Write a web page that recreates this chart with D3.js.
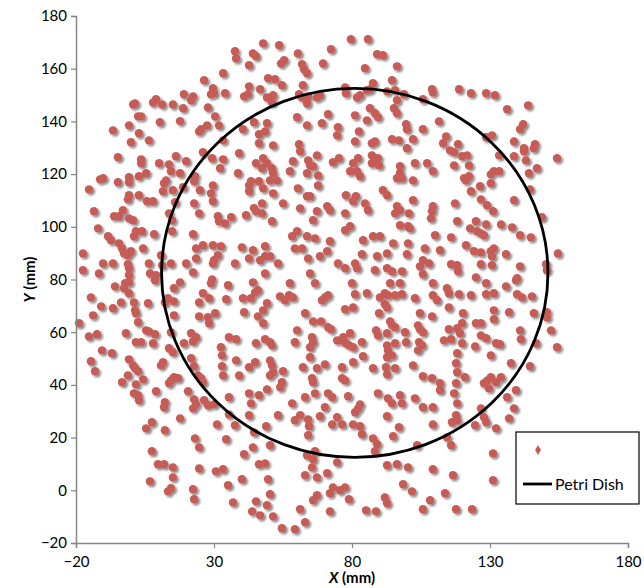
<!DOCTYPE html>
<html><head><meta charset="utf-8">
<script src="https://cdn.jsdelivr.net/npm/d3@7"></script>
<style>body{margin:0;background:#fff}svg{display:block}text{font-family:Lato,"Open Sans",sans-serif}</style>
</head><body>
<svg id="chart" width="644" height="588"></svg>
<script>
const xTicks = [-20, 30, 80, 130, 180];
const yTicks = [-20, 0, 20, 40, 60, 80, 100, 120, 140, 160, 180];
const seriesNames = ["", "Petri Dish"];
const dishCenter = [81, 82.5];
const dishRadius = 70;
const colonies = [
[37.6,166.6],[38,163.9],[44.1,165.8],[45.2,164.7],[42.7,161.3],[33.3,158.3],[26.4,155.6],[42.7,153.3],[29.6,152.6],[30,150.7],[28.9,150.3],[34,150.7],[19.1,150.3],[22.4,149.5],[21.7,148],[40.9,149.5],[42.3,150.3],[9,148.4],[7.9,147.2],[11.2,146.4],[15.1,146.4],[0.7,146.4],[1.4,146.8],[18.8,145],[27.8,145.3],[2.5,141.9],[3.6,141.9],[10.4,139.7],[17.7,140.1],[30.4,141.9],[-0.8,138.5],[27.5,138.5],[25.3,137],[24.6,136.2],[31.8,138.5],[44.5,139.7],[-6.6,136.6],[2.8,135.5],[40.5,137],[-0.1,132.1],[6.4,132.8],[33.3,132.8],[46.3,135.1],[46.3,131.7],
[79.6,171.2],[85.8,171.2],[47.8,169.6],[53.6,168.9],[72.4,167.4],[60.4,165.8],[89.1,165.5],[91.2,165.1],[55.4,163.2],[54.3,162],[61.9,161.7],[62.6,159.8],[63.7,158.3],[69.5,162],[84.7,160.2],[96.3,160.9],[49.6,156.4],[52.1,156],[54.6,153.7],[94.5,155.6],[87.6,154.5],[62.2,153.7],[109,152.2],[109.3,151],[46.7,152.2],[77.5,152.9],[77.8,150.7],[85.4,151.8],[86.5,152.2],[92.7,151.4],[95.6,151.8],[60.8,150.3],[64.1,149.5],[61.9,149.1],[68.4,149.9],[67.3,149.1],[49.2,149.1],[51.4,149.9],[51,147.2],[81.8,149.1],[82.9,149.9],[98.8,150.3],[105.7,148.4],[96.3,148],[63.7,146.8],[86.5,145],[88.3,143.1],[89.4,141.6],[95.2,145],[96.3,143.1],[71.3,142.7],[81.1,142.3],[60.1,141.6],[85.4,140.4],[111.5,140],[69.1,139.3],[49.2,139.3],[48.5,136.2],[63.7,138.5],[74.9,137.8],[74.6,134.7],[99.6,138.9],[99.9,137],[82.5,136.2],[105.7,137],[102.1,133.2],[94.5,133.2],[97,132.8],[88.3,132.4],[87.2,131.7],[81.1,132.4],[60.8,131.3],[51.4,130.9],[113,131.7],
[118.8,152.2],[123.1,150.7],[128.6,150.7],[131.8,149.9],[136.2,144.6],[143.8,146.1],[142,138.9],[140.9,137],[128.6,134],[130.7,134.7],[138.7,132.4],[146.3,131.3],[142.3,129.8],[118.4,131.3],[114.1,134.3],
[-4.8,126.4],[3.6,125.6],[3.6,124.1],[10.1,124.1],[13.7,123.7],[14.4,121.1],[16.2,126.8],[19.9,124.9],[26,128.3],[29.3,126],[33.3,125.6],[32.2,122.2],[39.1,127.9],[38.7,120.3],[45.2,124.1],[43.4,117.3],[42.7,115.7],[42.7,113.5],[46.3,117.3],[-11.3,118],[-10.2,118.4],[-15.3,114.2],[-4.8,116.9],[-0.8,118.8],[-0.8,116.9],[2.8,119.2],[5.4,120.3],[12.6,117.6],[11.9,116.5],[17.7,120.3],[23.1,119.2],[22.8,117.3],[29.6,115.7],[11.5,113.5],[15.1,113.9],[18.8,115],[24.9,113.9],[28.9,112.7],[-0.8,112],[-1.2,110.4],[2.8,112],[7.9,109.7],[5.7,109.7],[15.9,109.3],[22.8,108.9],[29.6,109.7],[-13.5,105.9],[-3,106.3],[-6.2,104],[-4.4,104],[-0.8,103.2],[0.7,102.5],[13.7,105.1],[14.8,102.5],[24.6,105.1],[31.4,104],[31.8,102.1],[36.2,103.6],[34,101.3],[41.6,104.4],[44.5,107.1],[45.2,105.9],[-12,99.4],[1.7,98.3],[1,96.4],[3.9,98.3],[8.3,97.2],[14.8,98.3],[22.4,97.2],[-8.4,96.4],[-7.3,94.9],[-4.4,93.7],[-3.3,91.8],[-2.6,89.9],[-1.2,89.2],[-0.1,90.7],[4.3,91.8],[-17.5,89.9],[10.8,89.2],[23.5,91.8],[26,93],[29.6,93],[32.5,92.6],[31.4,89.2],[30,87.3],[29.6,86.1],[23.5,88],[40.1,92.2],[44.1,91.1],[42.7,88],[-10.2,86.1],[-6.6,86.1],[-1.2,85.8],[-0.8,84.3],[-0.8,81.6],[6.4,86.1],[11.2,85.4],[14.4,86.1],[19.9,86.1],[37.6,86.1],[-17.5,83.5],[-11.7,82.3],[6.8,82.3],[9,81.6],[22.4,82.7],[29.3,80],
[61.2,128.7],[67.3,127.1],[47.8,126],[49.2,124.1],[51,122.2],[51.4,120.3],[50.3,117.6],[52.8,117.6],[47.4,122.2],[58.6,124.9],[57.5,121.1],[64.1,125.2],[64.8,123.3],[65.9,123],[63.7,120.3],[67.7,119.5],[67.7,115.7],[73.1,124.5],[75.3,126],[80.4,124.1],[82.2,126],[79.3,121.1],[81.8,121.1],[82.9,119.2],[87.2,127.1],[89.4,126],[87.2,124.1],[89.8,123.3],[97.4,123],[96.3,118.4],[98.1,118.4],[97.4,120.3],[102.1,117.6],[102.8,124.1],[107.2,124.1],[109.3,121.1],[99.9,129.8],[60.4,114.6],[47.8,114.6],[51.4,112.7],[63.7,111.6],[64.8,111.6],[77.8,112],[81.4,111.6],[80.4,109.7],[91.2,113.9],[92.7,112],[84.7,108.9],[85.8,106.3],[102.1,110.1],[55,108.9],[47.4,108.9],[47.4,105.1],[61.2,107],[71,107.8],[72,106.3],[67.3,105.9],[77.5,105.1],[96.3,107.8],[97.4,106.3],[95.6,105.1],[100.6,105.1],[109.3,107.8],[109,105.9],[108.6,103.2],[65.9,102.5],[51,102.1],[97.4,100.6],[100.3,100.2],[101,99.4],[77.5,98.7],[79.3,100.2],[60.1,98.3],[58.3,96.4],[63.7,96.4],[66.6,95.6],[72,94.5],[84,94.9],[87.6,96.4],[90.1,96.4],[94.9,93.7],[100.3,93.7],[110.1,96.8],[48.5,92.6],[59.3,91.8],[61.9,91.8],[64.1,88],[68.4,88.8],[71,90.7],[83.6,89.6],[89.1,88.8],[92.7,89.9],[99.9,89.6],[106.4,91.8],[111.9,91.1],[48.5,88.8],[50.3,88.8],[46.7,87.3],[53.2,86.1],[74.9,86.1],[77.5,84.3],[81.1,86.1],[81.8,84.3],[88.3,83.5],[92.7,84.3],[94.5,83.1],[98.1,83.1],[105.7,87.3],[104.6,85],[107.9,86.1],[64.8,82.3],[48.5,82.3],[105.7,82],
[115.5,129],[117,128.3],[119.9,126.8],[121.7,127.1],[133.3,127.1],[138.7,126.8],[142.3,128.7],[143,125.2],[145.9,129.8],[154.3,126],[117,123.3],[122.4,123.3],[131.4,121.1],[133.3,121.1],[130.3,119.9],[144.1,120.3],[147,122.2],[120.6,118.4],[122.4,119.2],[121.3,117.6],[130.3,116.5],[126.4,115.4],[123.1,113.5],[144.5,114.2],[126.7,110.4],[128.9,108.2],[131.1,105.9],[138.7,110.1],[117.3,108.9],[118.1,102.1],[124.9,102.1],[122.8,99.4],[125.3,98.3],[126.7,97.5],[127.8,96.8],[128.6,100.9],[134,100.9],[138,99.8],[140.9,96.8],[144.8,96],[148.8,103.6],[115.9,96],[121.3,93],[124.2,90.7],[126.7,90.3],[130.3,90.7],[131.4,91.8],[130.7,88.8],[135.8,89.6],[130.7,85.4],[126.7,85.8],[115.9,85.8],[118.1,85.4],[118.4,83.1],[140.9,85],[150.3,85.8],[150.6,83.5],[154.6,89.9],[124.9,80.8],[139.8,80.5],
[-2.2,78.6],[-0.8,78.9],[-2.6,76.7],[-0.8,74.8],[-5.9,77.4],[8.6,79.7],[15.5,76.7],[17.7,78.9],[28.9,78.6],[35.1,77.8],[44.1,78.9],[45.9,75.9],[-14.6,73.2],[-3.7,71.3],[1,71.3],[1.4,68.3],[1.7,67.2],[6.1,71],[12.2,71.3],[13.3,72.9],[15.5,71.7],[26,74.8],[28.2,72.9],[24.6,71.3],[34.4,72.5],[40.5,72.9],[43.4,72.9],[44.9,75.1],[-10.9,69.8],[-6.6,69.1],[40.9,67.6],[-13.8,66.4],[15.5,66.4],[24.6,66],[27.8,65.7],[28.2,63.4],[30.4,67.2],[45.9,66],[-18.9,63.4],[2.5,63.8],[5.4,60.7],[6.4,60.3],[8.6,59.2],[-1.9,59.6],[14.4,60],[21.7,59.6],[23.5,58.1],[22.4,56.5],[-15.3,58.4],[-12.4,59.2],[1.7,56.2],[3.6,56.2],[7.9,55.8],[19.1,55.8],[35.4,58.1],[38,57.3],[32.5,54.3],[45.2,55.8],[-10.6,53.1],[-7,52],[13.7,53.9],[15.1,52.4],[-0.8,49.7],[0.7,47.4],[1.4,46.3],[2.5,45.2],[11.5,48.6],[10.8,47.4],[21.7,50.1],[22.8,47.1],[32.9,51.2],[32.9,47.1],[38,49.3],[42.7,46.7],[44.9,48.6],[-14.6,49],[-13.1,45.2],[-1.2,43.6],[4.3,42.1],[-3.3,41],[1.7,40.2],[14.4,41.7],[15.5,42.9],[17,42.5],[13.7,40.6],[24.2,43.6],[25.3,42.5],[26,41],[33.3,43.6],[39.1,43.6],[9,37.6],[1,36.8],[2.5,36.1],[2.8,34.2],[20.6,37.6],[35.4,35.3],[42.7,36.8],[43.4,33],[12.2,33.4],[11.9,31.5],[22.8,34.5],[23.5,32.6],[22.4,31.1],[26.4,34.2],[27.8,32.3],[30,32.6],[46.3,36.1],
[57.5,78.6],[66.6,78.6],[80,78.6],[93.8,78.6],[97.4,78.6],[109.3,78.6],[53.9,73.6],[55.7,72.1],[57.2,74],[58.6,73.2],[69.1,72.1],[70.2,73.2],[71.3,74],[81.1,74.4],[85.4,74.8],[90.1,73.2],[91.9,74.8],[93,74],[91.9,70.6],[92.7,69.4],[95.6,74],[98.1,74.4],[102.8,72.9],[109.3,74],[110.8,72.1],[49.2,71],[77.5,68.7],[80.4,69.4],[89.8,67.2],[47.8,68.3],[63,67.2],[104.6,67.2],[109,66],[65.9,64.1],[68.8,64.1],[71.3,61.9],[72.4,61.1],[93.8,64.1],[94.5,62.6],[95.6,61.9],[47.8,63.4],[103.9,62.6],[104.6,61.1],[105.7,60],[60.1,60.7],[88.7,60.7],[89.4,58.8],[92.7,59.6],[99.2,60],[79.3,59.6],[65.5,58.1],[65.9,56.2],[64.8,54.3],[74.6,56.9],[76.1,56.9],[77.8,55.8],[79,55],[80.4,54.3],[76.8,58.1],[83.6,56.2],[48.5,57.3],[50.3,56.2],[51,55],[59.3,56.2],[92.7,55],[93,53.1],[94.5,51.2],[92.7,50.5],[95.6,55.8],[99.6,56.2],[104.3,56.2],[105.4,55],[103.9,53.1],[84,50.9],[64.8,50.5],[50.3,49.3],[51,47.4],[80.4,48.6],[76.4,46.7],[70.2,47.8],[67.3,46.3],[62.2,46.7],[87.6,46.3],[92.3,46.7],[92.7,44],[95.6,46.3],[102.1,47.4],[51.4,44.8],[55,45.2],[50.3,43.6],[65.5,42.5],[65.9,41],[76.4,42.5],[77.5,41.7],[105.7,43.3],[109,42.5],[111.9,40.6],[54.6,41],[54,39.1],[49.2,38.3],[63,35.3],[66.6,36.8],[71.3,36.8],[72.8,35.3],[78.6,35.7],[82.9,32.6],[82.2,31.1],[89.4,36.8],[93,34.9],[94.5,33],[97.4,36.1],[98.1,33],[102.8,34.9],[105.7,31.5],[109.3,31.5],[58.3,33],[70.2,31.5],[111.9,38],
[114.4,76.7],[115.1,74.8],[118.8,74.4],[123.1,74],[128.6,78.6],[135.8,77.4],[139.4,79.7],[128.6,74.4],[131.4,74.8],[139.8,74.4],[141.6,73.2],[145.2,73.6],[115.1,69.4],[120.2,67.2],[131.4,68.3],[131.4,64.9],[136.9,67.6],[145.9,67.2],[150.6,67.6],[150.6,65.7],[119.9,63.4],[118.1,61.5],[119.1,59.6],[124.9,63.4],[126.7,63.4],[115.1,61.1],[126.7,58.8],[128.6,57.7],[140.9,60.7],[141.2,57.3],[152.1,60.7],[113.3,56.9],[115.9,57.3],[119.9,55.8],[124.6,54.6],[132.2,55.8],[133.6,55.4],[146.7,55.8],[154.3,54.3],[118.1,52],[130.3,51.2],[117.7,48.2],[137.6,48.2],[144.5,47.1],[118.1,44.8],[120.9,42.9],[130.3,42.9],[129,41.7],[127.8,40.6],[129.6,38.7],[132.2,41],[134,42.9],[117.7,40.6],[117,36.8],[118.1,33],[136.2,35.3],[139.4,38],[138.7,31.1],[126.7,31.1],
[7.5,25.8],[5.4,23.5],[12.2,22.8],[17.7,27.3],[35.4,28.8],[42.7,28.5],[37.6,24.7],[31.1,25],[23.1,19.7],[24.6,16.3],[34.4,19.4],[44.5,22],[7.5,14.8],[44.1,16.3],[40.9,13.7],[9.7,9.9],[11.9,9.9],[15.1,8.7],[15.1,4.9],[24.6,8.3],[30.7,7.2],[33.3,8],[46.3,9.9],[6.8,3.4],[13.3,-0.4],[14.4,0.8],[22.4,0.4],[22.8,-3.4],[35.1,1.9],[40.1,4.2],[36.9,-4.6],[45.2,-4.2],[43.8,-8],[46.7,-9.5],
[53.2,28.5],[59.3,26.6],[61.2,28.5],[64.1,26.9],[64.4,24.3],[64.1,20.9],[68.4,28.1],[74.6,27.7],[72.8,25],[76.4,25],[81.1,29.6],[80.4,25],[82.9,24.3],[83.6,21.3],[87.6,19.7],[89.1,17.5],[88.3,14.8],[92.7,28.1],[94.9,20.5],[97,23.9],[109.3,25],[48.9,24.3],[50.3,17.1],[103.6,17.1],[63.7,13.3],[66.6,14.8],[65.9,11.8],[74.6,10.6],[48.5,10.2],[65.5,8.7],[92.7,9.5],[96.3,9.9],[100.3,8.7],[109.3,8],[71,6.5],[63,5.7],[67.3,4.9],[49.6,4.2],[73.1,1.1],[72,-1.1],[75.7,0],[77.5,1.1],[98.5,2.3],[101.7,-0.4],[67.3,-1.9],[65.9,-3.8],[50.3,-1.5],[49.2,-5.7],[78.9,-3.4],[91.9,-2.7],[92.7,-4.9],[108.3,-3.8],[105.7,-7.2],[61.2,-7.2],[72,-8],[85.1,-7.6],[88.7,-8],[51.4,-9.9],[63,-12.1],[59.3,-14.8],[54.6,-14.4],[113.7,-1.1],
[117.7,28.5],[118.1,26.6],[116.2,25.8],[127.8,27.7],[128.6,25.8],[136.9,27.3],[124.6,24.7],[132.2,23.5],[114.4,20.1],[115.9,17.1],[131.1,14],[116.6,5.7],[131.1,3.8],[117.7,-7.2],[123.5,-7.2]
];

const W = 644, H = 588;
const m = {left: 76, right: 16, top: 16, bottom: 45};
const svg = d3.select("#chart");
const x = d3.scaleLinear().domain([-20, 180]).range([m.left, W - m.right]);
const y = d3.scaleLinear().domain([-20, 180]).range([H - m.bottom, m.top]);

const defs = svg.append("defs");
const f = defs.append("filter").attr("id", "sh").attr("x", "-50%").attr("y", "-50%").attr("width", "200%").attr("height", "200%");
f.append("feGaussianBlur").attr("in", "SourceAlpha").attr("stdDeviation", 1.3).attr("result", "b");
f.append("feOffset").attr("in", "b").attr("dx", 1.6).attr("dy", 1.9).attr("result", "o");
f.append("feComponentTransfer").attr("in", "o").attr("result", "o2")
  .append("feFuncA").attr("type", "linear").attr("slope", 0.45);
const fm = f.append("feMerge");
fm.append("feMergeNode").attr("in", "o2");
fm.append("feMergeNode").attr("in", "SourceGraphic");

// points
const gp = svg.append("g").attr("filter", "url(#sh)");
gp.selectAll("circle").data(colonies).join("circle")
  .attr("cx", d => x(d[0])).attr("cy", d => y(d[1])).attr("r", 4.2)
  .attr("fill", "#C65B57");

// dish
svg.append("ellipse")
  .attr("cx", x(dishCenter[0])).attr("cy", y(dishCenter[1]))
  .attr("rx", x(dishCenter[0] + dishRadius) - x(dishCenter[0]))
  .attr("ry", y(dishCenter[1] - dishRadius) - y(dishCenter[1]))
  .attr("fill", "none").attr("stroke", "#000").attr("stroke-width", 2.8);

// axes
const fmt = d => d < 0 ? "\u2212" + Math.abs(d) : d;
const xa = svg.append("g").attr("transform", `translate(0,${H - m.bottom})`)
  .call(d3.axisBottom(x).tickValues(xTicks).tickSize(5).tickFormat(fmt));
const ya = svg.append("g").attr("transform", `translate(${m.left},0)`)
  .call(d3.axisLeft(y).tickValues(yTicks).tickSize(5).tickFormat(fmt));
[xa, ya].forEach(a => {
  a.select(".domain").attr("stroke", "#868686").attr("stroke-width", 1.5);
  a.selectAll(".tick line").attr("stroke", "#868686").attr("stroke-width", 1.2);
  a.selectAll("text").attr("fill", "#000").style("font-size", "15px").style("font-family", "Lato, sans-serif");
});
xa.selectAll("text").attr("dy", "1.05em");
ya.selectAll("text").attr("x", -9);

// axis titles
const xt = svg.append("text").attr("x", x(80)).attr("y", 583).attr("text-anchor", "middle")
  .style("font-size", "15px").style("font-weight", "bold");
xt.append("tspan").style("font-style", "italic").text("X");
xt.append("tspan").text(" (mm)");
const yt = svg.append("text").attr("transform", `translate(35,${y(80)}) rotate(-90)`).attr("text-anchor", "middle")
  .style("font-size", "15px").style("font-weight", "bold");
yt.append("tspan").style("font-style", "italic").text("Y");
yt.append("tspan").text(" (mm)");

// legend
const lg = svg.append("g").attr("transform", "translate(516,432)");
lg.append("rect").attr("width", 123).attr("height", 72).attr("fill", "#fff").attr("stroke", "#000").attr("stroke-width", 1.2);
lg.append("path").attr("d", d3.symbol(d3.symbolDiamond, 30)()).attr("transform", "translate(22,18)").attr("fill", "#C65B57");
lg.append("text").attr("x", 38).attr("y", 23).style("font-size", "16px").text(seriesNames[0]);
lg.append("line").attr("x1", 7).attr("x2", 36).attr("y1", 52).attr("y2", 52).attr("stroke", "#000").attr("stroke-width", 2.8);
lg.append("text").attr("x", 39).attr("y", 58).style("font-size", "16px").text(seriesNames[1]);
</script>
</body></html>
